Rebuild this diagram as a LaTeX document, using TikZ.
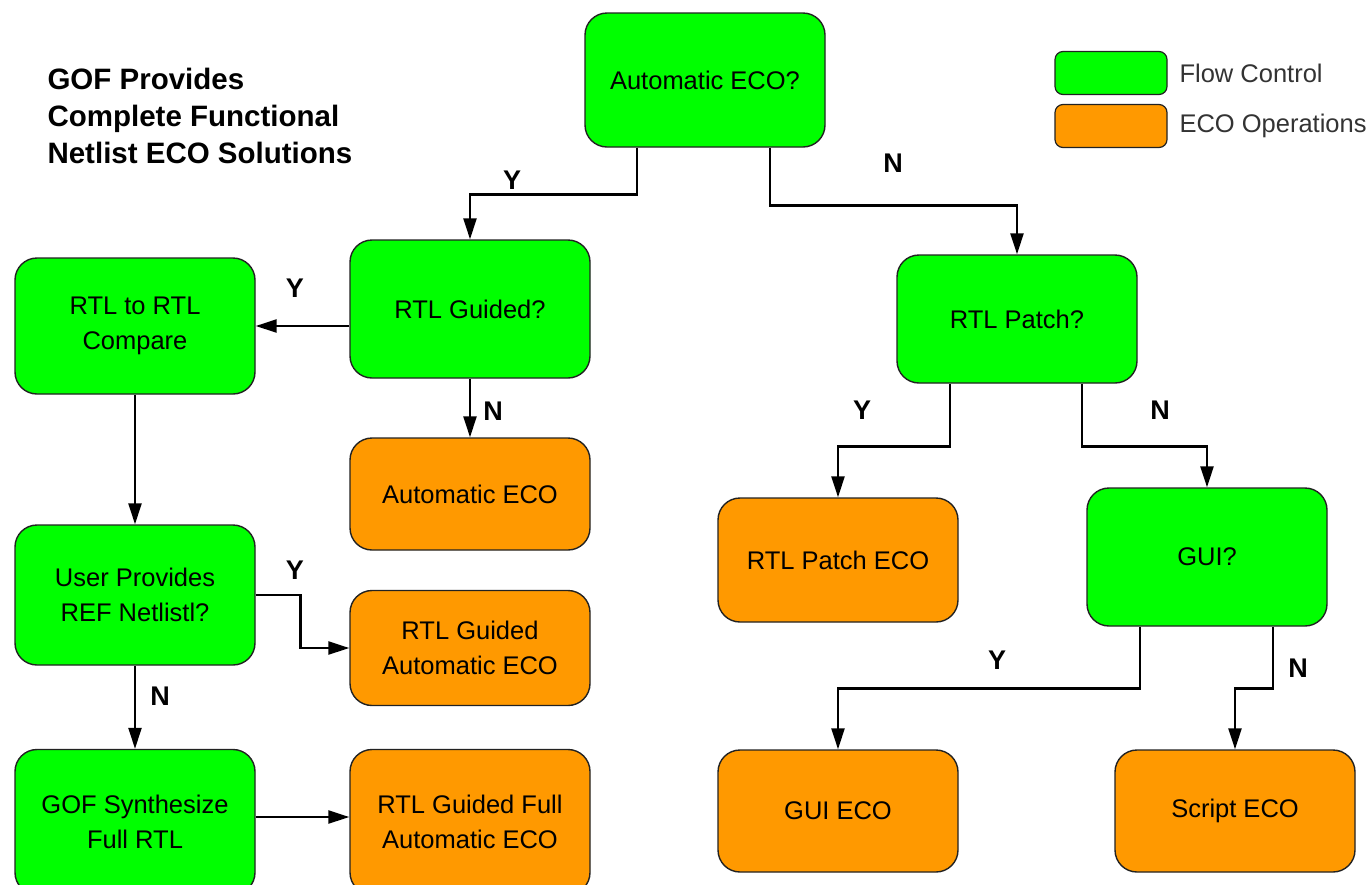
\documentclass[tikz,border=0pt]{standalone}
\usepackage{fontspec}
\setmainfont{Liberation Sans}
\usetikzlibrary{arrows.meta}
\definecolor{flowgreen}{HTML}{00FF00}
\definecolor{ecoorange}{HTML}{FF9900}
\definecolor{edgegray}{HTML}{222222}
\tikzset{
  boxbase/.style={draw=edgegray, line width=1.4pt, rounded corners=22pt, minimum width=240pt, align=center, inner sep=2pt, font=\fontsize{25.5}{35}\selectfont},
  flowbox/.style={boxbase, fill=flowgreen},
  ecobox/.style={boxbase, fill=ecoorange},
  legbox/.style={draw=edgegray, line width=1.2pt, rounded corners=8pt, minimum width=112pt, minimum height=43pt},
  legtext/.style={anchor=west, text=black!80, font=\fontsize{25.5}{30}\selectfont},
  conn/.style={line width=2.5pt, -{Triangle[length=21pt,width=13pt]}},
  yn/.style={font=\fontsize{27}{30}\selectfont\bfseries},
}
\begin{document}
\begin{tikzpicture}[x=1pt,y=-1pt]
\useasboundingbox (0,0) rectangle (1371,884);
\clip (0,0) rectangle (1371,884);
\fill[white] (0,0) rectangle (1371,884);

% title
\node[anchor=west, align=left, font=\fontsize{29.5}{37}\selectfont\bfseries] (title) at (44,116) {GOF Provides\\Complete Functional\\Netlist ECO Solutions};

% legend
\node[legbox, fill=flowgreen] (lg) at (1111,73) {};
\node[legbox, fill=ecoorange] (lo) at (1111,126) {};
\node[legtext] (lgt) at (1176,73) {Flow Control};
\node[legtext] (lot) at (1176,126) {ECO Operations};

% nodes
\node[flowbox, minimum height=134pt] (auto) at (705,80) {Automatic ECO?};
\node[flowbox, minimum height=138pt] (guided) at (470,309) {RTL Guided?};
\node[flowbox, minimum height=136pt] (r2r) at (135,326) {RTL to RTL\\Compare};
\node[ecobox, minimum height=112pt] (autoeco) at (470,494) {Automatic ECO};
\node[flowbox, minimum height=140pt] (user) at (135,595) {User Provides\\REF Netlistl?};
\node[ecobox, minimum height=115pt] (rgae) at (470,648) {RTL Guided\\Automatic ECO};
\node[flowbox, minimum height=145pt] (gofs) at (135,822) {GOF Synthesize\\Full RTL};
\node[ecobox, minimum height=145pt] (rgfull) at (470,822) {RTL Guided Full\\Automatic ECO};
\node[flowbox, minimum height=128pt] (patch) at (1017,319) {RTL Patch?};
\node[ecobox, minimum height=124pt] (patcheco) at (838,560) {RTL Patch ECO};
\node[flowbox, minimum height=138pt] (gui) at (1207,557) {GUI?};
\node[ecobox, minimum height=122pt] (guieco) at (838,811) {GUI ECO};
\node[ecobox, minimum height=122pt] (script) at (1235,811) {Script ECO};

% connectors
\draw[conn] ([xshift=-68pt]auto.south) -- ++(0,47) -| (guided.north);
\draw[conn] ([xshift=65pt]auto.south) -- ++(0,58) -| (patch.north);
\draw[conn] (r2r.east -| guided.west) -- (r2r.east);
\draw[conn] (guided.south) -- (autoeco.north);
\draw[conn] (r2r.south) -- (user.north);
\draw[conn] (user.east) -- ++(45,0) |- (rgae.west);
\draw[conn] (user.south) -- (gofs.north);
\draw[conn] ([yshift=5pt]gofs.east) -- ([yshift=5pt]rgfull.west);
\draw[conn] ([xshift=-67pt]patch.south) -- ++(0,63) -| (patcheco.north);
\draw[conn] ([xshift=65pt]patch.south) -- ++(0,63) -| (gui.north);
\draw[conn] ([xshift=-67pt]gui.south) -- ++(0,62) -| (guieco.north);
\draw[conn] ([xshift=66pt]gui.south) -- ++(0,62) -| (script.north);

% labels
\node[yn] (l1) at (512,180) {Y};
\node[yn] (l2) at (893,163) {N};
\node[yn] (l3) at (295,288) {Y};
\node[yn] (l4) at (493,411) {N};
\node[yn] (l5) at (295,570) {Y};
\node[yn] (l6) at (160,696) {N};
\node[yn] (l7) at (862,410) {Y};
\node[yn] (l8) at (1160,410) {N};
\node[yn] (l9) at (997,660) {Y};
\node[yn] (l10) at (1298,668) {N};
\end{tikzpicture}
\end{document}
